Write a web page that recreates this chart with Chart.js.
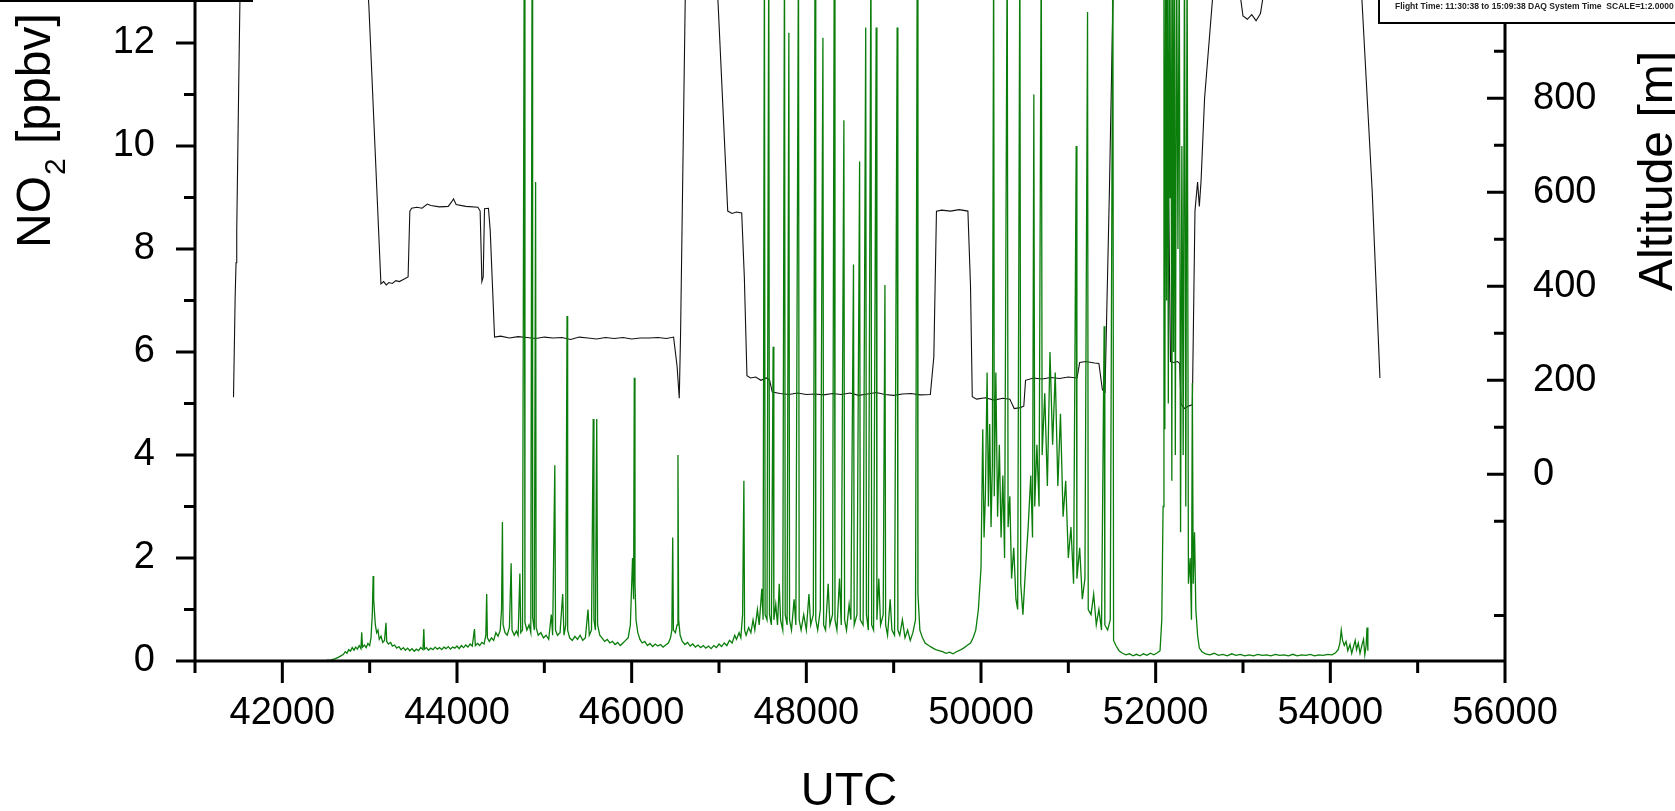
<!DOCTYPE html>
<html>
<head>
<meta charset="utf-8">
<script src="https://cdn.jsdelivr.net/npm/chart.js@4.4.0/dist/chart.umd.min.js"></script>
<style>
html, body { margin: 0; padding: 0; background: #fff; }
#wrap { position: relative; width: 1675px; height: 811px; overflow: hidden; }
</style>
</head>
<body>
<div id="wrap"><canvas id="myChart" width="1675" height="811"></canvas></div>
<script>
'use strict';
// data - altitude (right axis), metres
const altTime = [41441, 41460, 41470, 41478, 41500, 41520, 41560, 42850, 42930, 42990,
  43060, 43129, 43160, 43190, 43220, 43260, 43300, 43340, 43380, 43440,
  43460, 43480, 43540, 43600, 43660, 43700, 43800, 43900, 43940, 43960,
  43990, 44100, 44240, 44265, 44285, 44300, 44315, 44360, 44380, 44430,
  44500, 44600, 44700, 44800, 44900, 45000, 45100, 45200, 45300, 45400,
  45500, 45600, 45700, 45800, 45900, 46000, 46100, 46200, 46300, 46400,
  46480, 46520, 46545, 46560, 46620, 46660, 46900, 46990, 47100, 47150,
  47200, 47260, 47290, 47320, 47360, 47420, 47480, 47540, 47580, 47610,
  47700, 47800, 47900, 48000, 48100, 48200, 48300, 48400, 48500, 48600,
  48700, 48800, 48900, 49000, 49100, 49200, 49300, 49420, 49460, 49490,
  49550, 49650, 49750, 49850, 49880, 49900, 49950, 50050, 50150, 50250,
  50330, 50380, 50450, 50490, 50510, 50600, 50700, 50800, 50900, 51000,
  51100, 51130, 51200, 51300, 51350, 51390, 51420, 51470, 51520, 51560,
  52000, 52120, 52170, 52200, 52250, 52275, 52290, 52330, 52370, 52420,
  52450, 52480, 52500, 52520, 52560, 52650, 52700, 52760, 52900, 52960,
  53000, 53050, 53100, 53150, 53200, 53250, 53300, 54300, 54362, 54480,
  54568];
const altMeters = [164, 380, 450, 520, 820, 1080, 1300, 1300, 1150, 1000,
  700, 405, 410, 403, 408, 406, 412, 410, 414, 420,
  560, 566, 568, 566, 575, 572, 569, 570, 580, 586,
  574, 570, 568, 560, 410, 420, 565, 566, 520, 292,
  294, 290, 293, 291, 289, 292, 290, 291, 287, 292,
  290, 288, 291, 289, 291, 288, 290, 290, 291, 289,
  292, 230, 162, 300, 1100, 1300, 1300, 1000, 560, 555,
  558, 556, 420, 210, 205, 207, 200, 205, 200, 175,
  172, 170, 173, 170, 171, 169, 172, 170, 173, 168,
  171, 174, 170, 168, 171, 172, 169, 170, 250, 560,
  562, 560, 563, 560, 400, 165, 160, 163, 158, 162,
  160, 140, 142, 145, 200, 205, 203, 206, 204, 207,
  205, 238, 240, 237, 236, 180, 175, 600, 1100, 1300,
  1300, 1050, 240, 238, 240, 236, 150, 140, 145, 148,
  560, 622, 570, 625, 800, 1009, 1200, 1300, 1300, 1030,
  975, 968, 978, 965, 980, 1040, 1300, 1300, 1009, 600,
  205];

// data - NO2 (left axis), ppbv
const no2Time = [42294, 42400, 42500, 42560, 42600, 42640, 42670, 42700, 42720, 42740,
  42760, 42780, 42800, 42820, 42840, 42860, 42880, 42900, 42909, 42918,
  42940, 42960, 42980, 43000, 43015, 43030, 43040, 43046, 43055, 43065,
  43080, 43095, 43110, 43130, 43150, 43170, 43187, 43195, 43215, 43240,
  43260, 43285, 43310, 43335, 43360, 43385, 43410, 43435, 43460, 43485,
  43510, 43535, 43560, 43585, 43610, 43620, 43628, 43650, 43675, 43700,
  43725, 43750, 43775, 43800, 43825, 43850, 43875, 43900, 43925, 43950,
  43975, 44000, 44025, 44050, 44075, 44100, 44125, 44150, 44175, 44200,
  44210, 44235, 44260, 44285, 44310, 44330, 44340, 44348, 44370, 44395,
  44420, 44445, 44470, 44495, 44510, 44520, 44528, 44550, 44575, 44600,
  44620, 44630, 44655, 44680, 44700, 44720, 44730, 44750, 44770, 44778,
  44800, 44825, 44845, 44860, 44866, 44885, 44900, 44906, 44930, 44960,
  44990, 45020, 45050, 45080, 45095, 45120, 45128, 45150, 45180, 45210,
  45225, 45245, 45260, 45267, 45290, 45320, 45350, 45380, 45410, 45440,
  45470, 45500, 45515, 45540, 45560, 45568, 45585, 45600, 45610, 45635,
  45660, 45690, 45720, 45750, 45780, 45810, 45840, 45870, 45900, 45930,
  45960, 45985, 46010, 46022, 46030, 46038, 46050, 46070, 46095, 46120,
  46150, 46180, 46210, 46240, 46270, 46300, 46330, 46360, 46390, 46420,
  46445, 46460, 46470, 46478, 46500, 46520, 46530, 46538, 46555, 46580,
  46610, 46640, 46670, 46700, 46730, 46760, 46790, 46820, 46850, 46880,
  46910, 46940, 46970, 47000, 47030, 47060, 47090, 47120, 47150, 47180,
  47200, 47230, 47250, 47270, 47285, 47293, 47310, 47340, 47365, 47390,
  47410, 47440, 47460, 47490, 47505, 47520, 47528, 47550, 47570, 47578,
  47600, 47620, 47628, 47650, 47670, 47690, 47705, 47730, 47750, 47758,
  47780, 47800, 47808, 47830, 47860, 47880, 47910, 47918, 47940, 47970,
  48000, 48030, 48050, 48080, 48100, 48108, 48130, 48160, 48190, 48198,
  48220, 48250, 48270, 48300, 48320, 48328, 48350, 48380, 48400, 48430,
  48438, 48460, 48490, 48510, 48540, 48548, 48580, 48610, 48618, 48650,
  48680, 48688, 48710, 48740, 48748, 48770, 48800, 48808, 48830, 48850,
  48880, 48900, 48908, 48930, 48960, 48980, 49010, 49040, 49048, 49070,
  49100, 49130, 49160, 49190, 49220, 49250, 49270, 49278, 49300, 49330,
  49360, 49400, 49440, 49480, 49520, 49560, 49600, 49640, 49680, 49720,
  49760, 49800, 49840, 49880, 49910, 49940, 49970, 50000, 50020, 50035,
  50050, 50070, 50085, 50100, 50115, 50130, 50145, 50152, 50170, 50190,
  50210, 50230, 50250, 50270, 50300, 50310, 50330, 50350, 50375, 50400,
  50420, 50445, 50455, 50480, 50510, 50540, 50570, 50590, 50605, 50615,
  50640, 50665, 50690, 50700, 50730, 50760, 50790, 50820, 50850, 50880,
  50910, 50940, 50970, 51000, 51030, 51060, 51090, 51098, 51130, 51160,
  51190, 51220, 51228, 51260, 51290, 51320, 51350, 51380, 51410, 51418,
  51450, 51480, 51510, 51518, 51545, 51580, 51620, 51660, 51700, 51740,
  51780, 51820, 51860, 51900, 51940, 51980, 52020, 52050, 52070, 52085,
  52095, 52105, 52115, 52125, 52135, 52145, 52155, 52165, 52175, 52185,
  52195, 52205, 52215, 52225, 52240, 52255, 52270, 52285, 52300, 52315,
  52330, 52345, 52360, 52375, 52395, 52410, 52420, 52430, 52445, 52460,
  52480, 52500, 52530, 52570, 52620, 52670, 52720, 52770, 52820, 52870,
  52920, 52970, 53020, 53070, 53120, 53170, 53220, 53270, 53320, 53370,
  53420, 53470, 53520, 53570, 53620, 53670, 53720, 53770, 53820, 53870,
  53920, 53970, 54020, 54060, 54090, 54110, 54125, 54140, 54160, 54180,
  54200, 54225, 54245, 54265, 54285, 54300, 54320, 54340, 54360, 54380,
  54395, 54410, 54420, 54430];
const no2Ppbv = [0, 0, 0.01, 0.02, 0.04, 0.07, 0.1, 0.13, 0.18, 0.15,
  0.22, 0.19, 0.26, 0.21, 0.27, 0.23, 0.3, 0.24, 0.56, 0.27,
  0.31, 0.26, 0.34, 0.3, 0.45, 0.9, 1.65, 1.2, 0.95, 0.7,
  0.55, 0.6, 0.42, 0.48, 0.36, 0.4, 0.74, 0.38, 0.33, 0.36,
  0.29, 0.31, 0.25, 0.28, 0.22, 0.26, 0.21, 0.25, 0.2, 0.24,
  0.19, 0.23, 0.2, 0.26, 0.22, 0.62, 0.23, 0.26, 0.21, 0.25,
  0.22, 0.27, 0.23, 0.26, 0.22, 0.27, 0.24, 0.28, 0.23, 0.27,
  0.25, 0.29, 0.24, 0.3, 0.26, 0.31, 0.27, 0.33, 0.29, 0.62,
  0.3, 0.34, 0.3, 0.36, 0.33, 0.5, 1.3, 0.45, 0.38, 0.45,
  0.4, 0.55, 0.48, 0.6, 1.0, 2.7, 0.7, 0.55, 0.5, 0.65,
  1.9, 0.6, 0.5, 0.58, 0.5, 1.7, 0.55, 0.6, 14, 0.75,
  0.6, 0.7, 0.55, 14, 0.85, 0.6, 9.3, 0.65, 0.5, 0.55,
  0.45, 0.5, 0.42, 0.9, 0.5, 3.8, 0.6, 0.5, 0.55, 1.3,
  0.5, 0.7, 6.7, 0.6, 0.45, 0.4, 0.48, 0.42, 0.5, 0.4,
  0.45, 1.0, 0.5, 0.6, 4.7, 0.8, 0.6, 4.7, 0.7, 0.5,
  0.45, 0.38, 0.42, 0.35, 0.38, 0.32, 0.36, 0.3, 0.35, 0.4,
  0.45, 0.7, 2.0, 1.2, 5.5, 1.5, 0.8, 0.55, 0.42, 0.35,
  0.38, 0.3, 0.34, 0.28, 0.33, 0.29, 0.32, 0.27, 0.31, 0.35,
  0.45, 0.6, 2.4, 0.6, 0.55, 0.7, 4.0, 0.8, 0.5, 0.38,
  0.32, 0.36, 0.29, 0.33, 0.27, 0.31, 0.26, 0.3, 0.25, 0.29,
  0.24, 0.3, 0.26, 0.33, 0.28, 0.35, 0.3, 0.4, 0.35, 0.5,
  0.42, 0.55, 0.45, 0.9, 3.5, 0.6, 0.5, 0.65, 0.55, 0.8,
  0.6, 1.0, 0.7, 1.4, 0.8, 14, 0.9, 0.8, 14, 0.9,
  0.7, 6.1, 0.8, 1.1, 0.7, 1.5, 0.8, 0.6, 14, 0.9,
  0.7, 12.2, 0.8, 0.6, 1.2, 0.7, 14, 0.8, 0.6, 0.9,
  0.6, 1.3, 0.7, 0.9, 14, 0.8, 0.6, 1.0, 12.1, 0.7,
  0.6, 1.5, 0.7, 0.9, 14, 0.8, 0.6, 1.6, 0.7, 10.5,
  0.8, 0.6, 1.1, 0.8, 7.7, 0.7, 0.9, 9.7, 0.8, 0.7,
  12.3, 0.9, 0.6, 14, 0.7, 0.6, 12.3, 0.8, 1.6, 0.7,
  0.9, 7.3, 0.7, 0.5, 1.2, 0.6, 0.5, 12.3, 0.6, 0.5,
  0.8, 0.45, 0.6, 0.4, 0.55, 0.8, 14, 1.3, 0.6, 0.45,
  0.35, 0.3, 0.26, 0.22, 0.2, 0.18, 0.15, 0.17, 0.14, 0.18,
  0.21, 0.25, 0.3, 0.35, 0.45, 0.6, 1.0, 1.8, 4.5, 2.4,
  3.2, 5.6, 3.0, 4.6, 2.6, 3.8, 14, 3.2, 5.6, 2.8,
  4.2, 2.4, 3.6, 2.0, 14, 2.6, 3.2, 1.6, 2.2, 1.2,
  1.0, 14, 1.5, 0.9, 1.8, 2.6, 3.6, 2.4, 11, 3.0,
  4.2, 3.0, 14, 4.0, 5.2, 3.4, 6.0, 4.2, 5.6, 3.4,
  4.8, 2.8, 3.5, 2.0, 2.6, 1.5, 10.0, 1.6, 2.2, 1.2,
  1.6, 12.6, 1.0, 0.9, 1.3, 0.7, 1.0, 0.6, 6.5, 0.7,
  0.6, 0.8, 14, 0.4, 0.3, 0.2, 0.15, 0.12, 0.14, 0.1,
  0.13, 0.1, 0.14, 0.11, 0.15, 0.12, 0.16, 0.2, 0.8, 3.0,
  14, 4.5, 14, 7.0, 14, 5.0, 14, 9.0, 14, 3.5,
  14, 6.0, 14, 4.0, 14, 8.0, 14, 2.5, 10, 4.0,
  14, 3.0, 14, 1.5, 2.0, 0.8, 5.4, 1.5, 2.5, 1.0,
  0.5, 0.25, 0.18, 0.14, 0.12, 0.15, 0.11, 0.13, 0.1, 0.14,
  0.11, 0.13, 0.1, 0.12, 0.1, 0.13, 0.11, 0.12, 0.1, 0.13,
  0.11, 0.12, 0.1, 0.13, 0.1, 0.12, 0.11, 0.13, 0.1, 0.12,
  0.11, 0.13, 0.12, 0.16, 0.22, 0.35, 0.6, 0.4, 0.3, 0.38,
  0.2, 0.32, 0.15, 0.28, 0.4, 0.22, 0.35, 0.15, 0.3, 0.42,
  0.12, 0.3, 0.65, 0.2];

// axes ticks
const xTickValues = [42000, 44000, 46000, 48000, 50000, 52000, 54000, 56000];
const xMinorValues = [41000, 43000, 45000, 47000, 49000, 51000, 53000, 55000];
const no2TickValues = [0, 2, 4, 6, 8, 10, 12];
const no2MinorValues = [1, 3, 5, 7, 9, 11];
const altTickValues = [0, 200, 400, 600, 800];
const altMinorValues = [-300, -100, 100, 300, 500, 700, 900];

const FONT = "'Liberation Sans', Arial, sans-serif";

const toPoints = (xs, ys) => xs.map((v, i) => ({ x: v, y: ys[i] }));

// axis lines, ticks and titles drawn on top of the data
const frame = {
  id: 'frame',
  afterDraw(chart) {
    const { ctx, chartArea: a, scales: { x, y, y2 } } = chart;
    ctx.save();
    ctx.strokeStyle = '#000';
    ctx.lineWidth = 3;
    ctx.lineCap = 'butt';
    ctx.beginPath();
    ctx.moveTo(a.left, a.top); ctx.lineTo(a.left, a.bottom + 1.5);
    ctx.moveTo(a.left - 1.5, a.bottom); ctx.lineTo(a.right + 1.5, a.bottom);
    ctx.moveTo(a.right, a.top); ctx.lineTo(a.right, a.bottom + 1.5);
    xTickValues.forEach(v => { const p = x.getPixelForValue(v); ctx.moveTo(p, a.bottom); ctx.lineTo(p, a.bottom + 22); });
    xMinorValues.forEach(v => { const p = x.getPixelForValue(v); ctx.moveTo(p, a.bottom); ctx.lineTo(p, a.bottom + 12); });
    no2TickValues.forEach(v => { const p = y.getPixelForValue(v); ctx.moveTo(a.left, p); ctx.lineTo(a.left - 19, p); });
    no2MinorValues.forEach(v => { const p = y.getPixelForValue(v); ctx.moveTo(a.left, p); ctx.lineTo(a.left - 11, p); });
    altTickValues.forEach(v => { const p = y2.getPixelForValue(v); ctx.moveTo(a.right, p); ctx.lineTo(a.right - 18, p); });
    altMinorValues.forEach(v => { const p = y2.getPixelForValue(v); ctx.moveTo(a.right, p); ctx.lineTo(a.right - 11, p); });
    ctx.stroke();

    // piece of the box above
    ctx.lineWidth = 2;
    ctx.beginPath();
    ctx.moveTo(0, 1); ctx.lineTo(253, 1);
    ctx.stroke();

    ctx.fillStyle = '#000';
    // NO2 title
    ctx.save();
    ctx.translate(50, 248);
    ctx.rotate(-Math.PI / 2);
    ctx.textBaseline = 'alphabetic';
    ctx.textAlign = 'left';
    ctx.font = `48px ${FONT}`;
    ctx.fillText('NO', 0, 0);
    let w = ctx.measureText('NO').width;
    ctx.font = `30px ${FONT}`;
    ctx.fillText('2', w + 1, 15);
    w += ctx.measureText('2').width + 2;
    ctx.font = `48px ${FONT}`;
    ctx.fillText(' [ppbv]', w, 0);
    ctx.restore();

    // altitude title
    ctx.save();
    ctx.translate(1672, 171);
    ctx.rotate(-Math.PI / 2);
    ctx.textAlign = 'center';
    ctx.textBaseline = 'alphabetic';
    ctx.font = `48px ${FONT}`;
    ctx.fillText('Altitude [m]', 0, 0);
    ctx.restore();

    // x title
    ctx.textAlign = 'center';
    ctx.textBaseline = 'alphabetic';
    ctx.font = `47px ${FONT}`;
    ctx.fillText('UTC', 849, 805);

    // inset from the flight map
    ctx.fillStyle = '#fff';
    ctx.fillRect(1379, -5, 310, 28);
    ctx.lineWidth = 2;
    ctx.strokeRect(1379, -5, 310, 28);
    ctx.fillStyle = '#222';
    ctx.textAlign = 'left';
    ctx.textBaseline = 'middle';
    ctx.font = `bold 8.5px ${FONT}`;
    ctx.fillText('Flight Time: 11:30:38 to 15:09:38 DAQ System Time  SCALE=1:2.0000', 1395, 7);
    ctx.restore();
  }
};

const noPad = s => { s.paddingTop = 0; s.paddingBottom = 0; };

const ctx = document.getElementById('myChart');
const myChart = new Chart(ctx.getContext('2d'), {
  type: 'line',
  data: {
    datasets: [{
      label: 'NO2',
      data: toPoints(no2Time, no2Ppbv),
      yAxisID: 'y',
      borderColor: '#0b7d0b',
      borderWidth: 1.3,
      pointRadius: 0,
      tension: 0
    }, {
      label: 'Altitude',
      data: toPoints(altTime, altMeters),
      yAxisID: 'y2',
      borderColor: '#111',
      borderWidth: 1.1,
      pointRadius: 0,
      tension: 0
    }]
  },
  options: {
    responsive: false,
    animation: false,
    devicePixelRatio: 1,
    layout: { padding: 0 },
    plugins: {
      legend: { display: false },
      tooltip: { enabled: false }
    },
    scales: {
      x: {
        type: 'linear',
        position: 'bottom',
        min: 41000,
        max: 56000,
        grid: { display: false },
        border: { display: false },
        afterFit: s => { s.height = 150; },
        afterBuildTicks: s => { s.ticks = xTickValues.map(v => ({ value: v })); },
        ticks: {
          autoSkip: false,
          maxRotation: 0,
          padding: 22,
          color: '#000',
          font: { family: FONT, size: 38 },
          callback: v => String(v)
        }
      },
      y: {
        position: 'left',
        min: 0,
        max: 12.835,
        grid: { display: false },
        border: { display: false },
        afterFit: s => { s.width = 195; noPad(s); },
        afterBuildTicks: s => { s.ticks = no2TickValues.map(v => ({ value: v })); },
        ticks: {
          padding: 32,
          color: '#000',
          font: { family: FONT, size: 38 },
          callback: v => String(v)
        }
      },
      y2: {
        position: 'right',
        min: -397,
        max: 1009,
        grid: { display: false },
        border: { display: false },
        afterFit: s => { s.width = 170; noPad(s); },
        afterBuildTicks: s => { s.ticks = altTickValues.map(v => ({ value: v })); },
        ticks: {
          padding: 20,
          color: '#000',
          font: { family: FONT, size: 38 },
          callback: v => String(v)
        }
      }
    }
  },
  plugins: [frame]
});
</script>
</body>
</html>
